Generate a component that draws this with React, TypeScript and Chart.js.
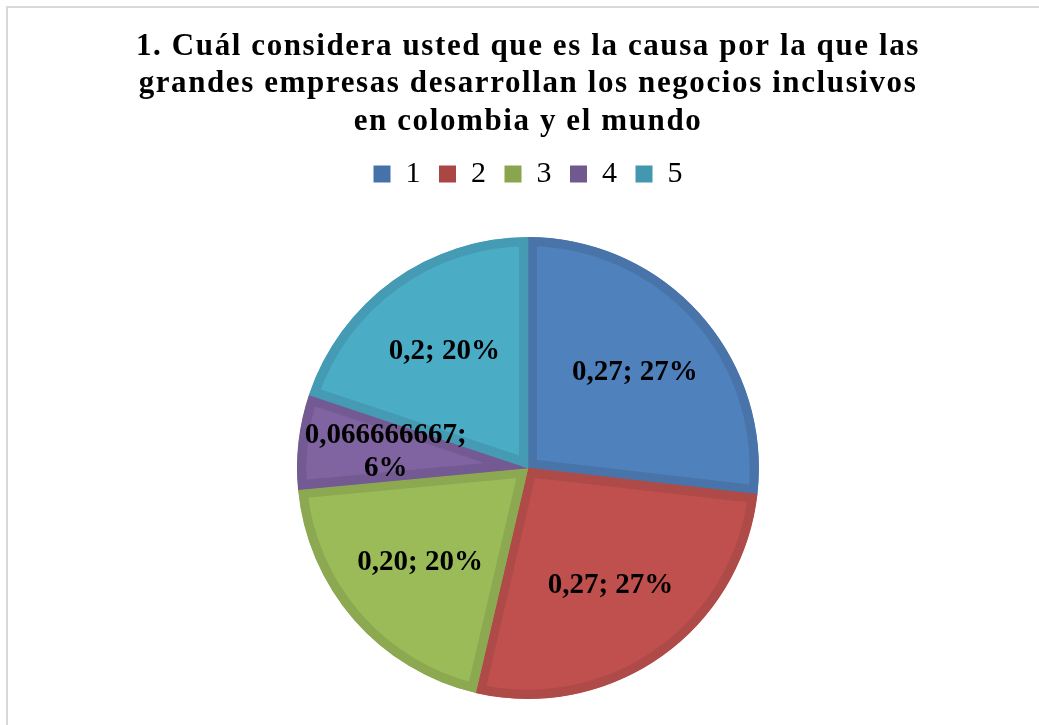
import React, { useEffect, useRef } from 'react';
import { Chart, registerables } from 'chart.js';

Chart.register(...registerables);

const titleLines = [
  '1. Cuál considera usted que es la causa por la que las',
  'grandes empresas desarrollan los negocios inclusivos',
  'en colombia y el mundo',
];
const categories = ['1', '2', '3', '4', '5'];
const values = [0.27, 0.27, 0.2, 0.066666667, 0.2];
const valueText = ['0,27', '0,27', '0,20', '0,066666667', '0,2'];
const percentText = ['27%', '27%', '20%', '6%', '20%'];
const fillColors = ['#4F81BD', '#C0504D', '#9BBB59', '#8064A2', '#4BACC6'];
const bandColors = ['#4874AA', '#AE4A47', '#8CA951', '#735A93', '#449BB3'];
const legendColors = ['#4672AA', '#AA4643', '#89A54E', '#71588F', '#4198AF'];

const FONT = '"Liberation Serif", "Times New Roman", serif';

const framePlugin = {
  id: 'frame',
  beforeDraw(chart: any) {
    const ctx = chart.ctx;
    ctx.save();
    ctx.fillStyle = '#D9D9D9';
    ctx.fillRect(6, 6, 2, chart.height - 6);
    ctx.fillRect(6, 6, chart.width - 6, 2);
    ctx.restore();
  },
};

const layoutTweaksPlugin = {
  id: 'layoutTweaks',
  beforeLayout(chart: any) {
    const lg = chart.legend;
    if (lg && !lg._gapPatched) {
      const orig = lg.fit;
      lg.fit = function () {
        orig.call(this);
        this.height += 38;
      };
      lg._gapPatched = true;
    }
    const tb = chart.titleBlock;
    if (tb && !tb._spPatched) {
      const origDraw = tb.draw;
      tb.draw = function () {
        const c = this.ctx;
        c.save();
        (c as any).letterSpacing = '1.6px';
        origDraw.call(this);
        c.restore();
      };
      tb._spPatched = true;
    }
  },
};

const dataLabelPlugin = {
  id: 'sliceLabels',
  afterDatasetsDraw(chart: any) {
    const meta = chart.getDatasetMeta(0);
    const ctx = chart.ctx;
    ctx.save();
    ctx.font = `bold 29px ${FONT}`;
    ctx.fillStyle = '#000';
    ctx.textAlign = 'center';
    ctx.textBaseline = 'middle';
    meta.data.forEach((arc: any, i: number) => {
      const { x, y, startAngle, endAngle, outerRadius } = arc.getProps(
        ['x', 'y', 'startAngle', 'endAngle', 'outerRadius'],
        true
      );
      const mid = (startAngle + endAngle) / 2;
      const r = outerRadius * 0.62;
      const cx = x + Math.cos(mid) * r;
      const cy = y + Math.sin(mid) * r;
      const narrow = endAngle - startAngle < Math.PI / 6;
      const lines = narrow
        ? [valueText[i] + ';', percentText[i]]
        : [valueText[i] + '; ' + percentText[i]];
      lines.forEach((l, k) => {
        ctx.fillText(l, cx, cy + (k - (lines.length - 1) / 2) * 33);
      });
    });
    ctx.restore();
  },
};

export default function App() {
  const canvasRef = useRef<HTMLCanvasElement | null>(null);

  useEffect(() => {
    if (!canvasRef.current) return;
    const chart = new Chart(canvasRef.current, {
      type: 'pie',
      data: {
        labels: categories,
        datasets: [
          {
            data: values,
            backgroundColor: fillColors,
            borderColor: bandColors,
            borderWidth: 9,
            borderAlign: 'inner',
            hoverOffset: 0,
            offset: 0,
          } as any,
        ],
      },
      options: {
        animation: false,
        responsive: false,
        events: [],
        layout: { padding: { left: 17, right: 0, top: 0, bottom: 26 } },
        plugins: {
          title: {
            display: true,
            text: titleLines,
            color: '#000',
            font: { family: FONT, size: 31, weight: 'bold', lineHeight: 1.21 },
            padding: { top: 28, bottom: 0 },
          },
          legend: {
            display: true,
            position: 'top',
            labels: {
              color: '#000',
              font: { family: FONT, size: 30 },
              boxWidth: 17,
              boxHeight: 17,
              padding: 18.5,
              generateLabels: () =>
                categories.map((c, i) => ({
                  text: c,
                  fillStyle: legendColors[i],
                  strokeStyle: legendColors[i],
                  lineWidth: 0,
                  hidden: false,
                  index: i,
                })),
            },
          },
          tooltip: { enabled: false },
        },
      } as any,
      plugins: [framePlugin, layoutTweaksPlugin, dataLabelPlugin],
    });
    return () => chart.destroy();
  }, []);

  return (
    <div style={{ position: 'absolute', left: 0, top: 0, width: 1039, height: 725, background: '#fff' }}>
      <canvas ref={canvasRef} width={1039} height={725} style={{ display: 'block' }} />
    </div>
  );
}
